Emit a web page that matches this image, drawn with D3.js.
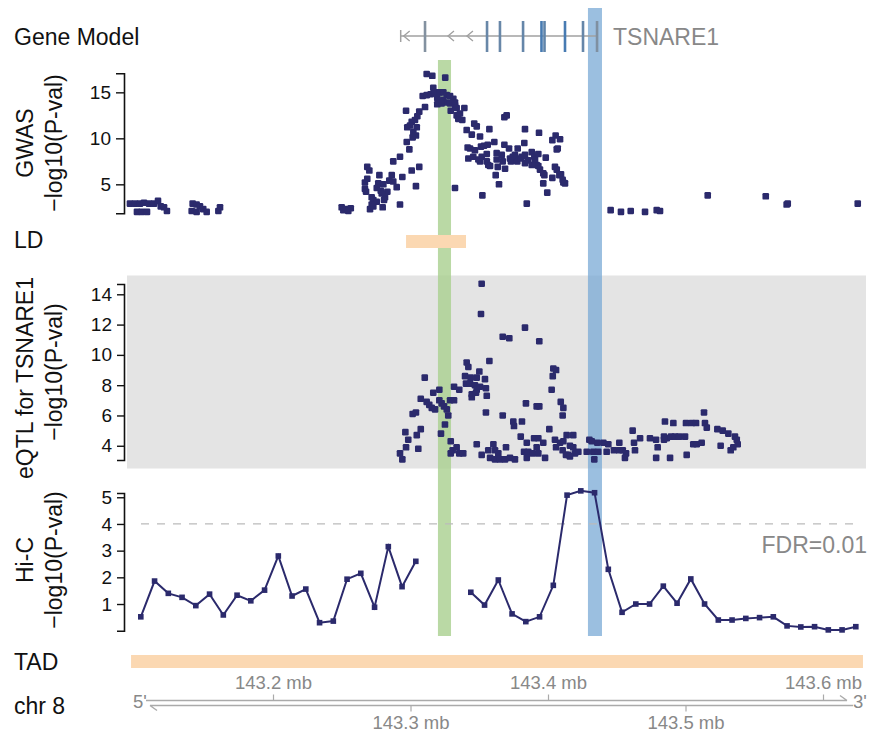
<!DOCTYPE html>
<html><head><meta charset="utf-8">
<script src="https://cdn.jsdelivr.net/npm/d3@7"></script>
<style>
body{margin:0;background:#fff}
text{font-family:"Liberation Sans",Arial,Helvetica,sans-serif}
</style>
</head><body>
<svg id="chart" width="870" height="733"></svg>
<script>
// ---------------- DATA ----------------
// genomic positions in mb (chr 8)
const gwasPoints = [
 [143.0956,2.9],[143.0993,2.9],[143.1029,2.9],[143.1058,3.0],[143.1095,2.9],[143.1131,2.9],[143.1160,3.2],[143.1180,2.6],
 [143.1204,2.5],[143.1225,2.1],[143.1007,2.0],[143.1041,2.0],[143.1080,2.0],[143.1412,2.9],[143.1441,2.8],[143.1465,2.6],
 [143.1489,2.3],[143.1405,2.1],[143.1441,2.0],[143.1514,2.0],[143.1599,2.1],[143.1611,2.5],
 [143.3114,17.0],[143.3155,16.8],[143.3249,16.6],[143.3162,15.5],[143.3085,14.6],[143.3114,14.7],[143.3143,14.8],[143.3175,15.0],
 [143.3206,15.0],[143.3235,15.0],[143.3260,14.7],[143.3284,14.6],[143.3308,14.3],[143.3320,13.9],[143.3191,14.4],[143.3235,14.2],
 [143.3264,13.9],[143.3284,13.8],[143.3191,13.7],[143.3223,13.8],[143.3289,13.0],[143.3320,13.6],[143.3332,12.5],[143.3344,12.1],
 [143.3102,13.4],[143.3060,12.9],[143.3046,12.4],[143.2964,13.0],[143.3029,12.0],[143.3005,11.8],[143.2993,11.4],[143.2973,11.2],
 [143.3042,11.2],[143.3017,10.7],[143.3036,10.3],[143.3012,10.1],[143.2969,9.6],[143.2988,8.8],[143.2920,8.0],[143.2871,7.5],
 [143.2682,6.9],[143.2697,6.5],[143.3005,6.5],[143.3060,6.9],[143.2770,6.0],[143.2860,6.0],[143.2937,5.8],[143.2682,5.6],
 [143.2665,5.2],[143.2842,5.4],[143.2871,5.3],[143.2762,5.1],[143.2799,5.0],[143.2896,4.7],[143.3036,4.8],[143.2665,4.5],
 [143.2751,4.6],[143.2780,4.3],[143.2673,4.2],[143.2828,4.2],[143.2787,4.0],[143.2714,3.6],[143.2811,3.6],[143.2726,3.3],
 [143.2751,3.1],[143.2804,3.3],[143.2714,2.8],[143.2920,2.8],[143.2794,2.5],[143.2702,2.3],[143.2726,2.6],[143.3320,4.6],
 [143.2496,2.5],[143.2527,2.3],[143.2562,2.4],[143.2508,2.2],[143.2544,2.1],
 [143.3332,13.3],[143.3356,12.7],[143.3388,13.3],[143.3373,12.0],[143.3405,10.9],[143.3460,11.6],[143.3478,11.3],[143.3442,10.4],
 [143.3502,10.2],[143.3570,11.0],[143.3679,12.3],[143.3696,12.5],[143.3829,11.0],[143.3931,10.6],[143.4052,10.3],[143.4028,9.8],
 [143.4084,9.9],[143.3429,8.9],[143.3465,8.7],[143.3417,7.8],[143.3453,8.0],[143.3509,9.1],[143.3514,8.0],[143.3502,7.5],
 [143.3558,9.3],[143.3551,8.3],[143.3562,7.1],[143.3606,9.6],[143.3623,8.4],[143.3631,6.9],[143.3679,9.3],[143.3713,8.9],
 [143.3720,7.8],[143.3727,7.5],[143.3756,8.2],[143.3776,8.9],[143.3805,8.0],[143.3824,9.5],[143.3829,7.3],[143.3878,8.5],
 [143.3897,8.0],[143.3914,7.1],[143.3926,8.3],[143.3938,6.6],[143.3980,7.9],[143.3970,6.0],[143.3962,5.1],[143.4028,5.7],
 [143.4047,6.9],[143.4067,8.9],[143.4091,6.1],[143.4108,5.2],[143.3616,6.0],[143.3640,5.0],[143.3991,4.1],[143.3519,3.8],
 [143.3842,2.9],[143.3412,9.0],[143.3531,9.2],[143.3490,7.7],[143.3551,7.5],[143.3575,7.0],[143.3623,7.7],[143.3660,8.2],
 [143.3667,7.5],[143.3684,6.7],[143.3740,8.0],[143.3773,7.5],[143.3798,7.8],[143.3829,8.2],[143.3853,7.6],[143.3878,7.1],
 [143.3902,7.7],[143.3926,7.0],[143.3962,6.2],[143.4060,6.6],[143.4079,6.0],[143.4103,5.5],[143.4120,5.1],[143.4060,8.8],
 [143.4452,2.2],[143.4527,2.0],[143.4598,2.1],[143.4702,2.0],[143.4787,2.2],[143.4811,2.1],[143.5158,3.8],[143.5580,3.7],
 [143.5732,2.8],[143.5740,2.9],[143.6249,2.9]
];

const eqtlPoints = [
 [143.3514,14.7],[143.3509,12.7],[143.3829,11.8],[143.3667,11.2],[143.3715,11.1],[143.3933,10.9],[143.3405,9.5],[143.3417,9.2],
 [143.3570,9.6],[143.3497,8.9],[143.3393,8.6],[143.3434,8.5],[143.3478,8.5],[143.3538,8.4],[143.3400,8.1],[143.3429,8.1],
 [143.3465,8.0],[143.3502,7.9],[143.3478,7.7],[143.3545,7.8],[143.3442,7.4],[143.3473,7.5],[143.3442,7.2],[143.3551,7.3],
 [143.3100,8.5],[143.3162,7.5],[143.3206,7.7],[143.3313,7.9],[143.3351,7.7],[143.3071,7.1],[143.3114,6.9],[143.3133,6.7],
 [143.3151,6.5],[143.3175,6.4],[143.3206,7.0],[143.3223,6.8],[143.3240,6.6],[143.3260,6.4],[143.3271,6.0],[143.3284,7.0],
 [143.3313,7.0],[143.3012,6.1],[143.3036,6.2],[143.3247,5.4],[143.3545,6.2],[143.3667,6.0],[143.3836,6.8],[143.3914,6.6],
 [143.3933,6.6],[143.4035,9.1],[143.4055,9.0],[143.4031,8.6],[143.4023,7.7],[143.4089,6.9],[143.4108,6.5],[143.4103,6.0],
 [143.3744,5.6],[143.3749,5.3],[143.3807,5.6],[143.4006,5.1],[143.2959,4.9],[143.3071,5.1],[143.3042,4.7],[143.2980,4.4],
 [143.2964,3.9],[143.3053,3.8],[143.2920,3.5],[143.2937,3.1],[143.3218,4.8],[143.3289,4.3],[143.3303,3.7],[143.3332,3.9],
 [143.3289,3.5],[143.3351,3.5],[143.3380,3.5],[143.3478,4.1],[143.3514,3.4],[143.3562,3.7],[143.3599,4.1],[143.3611,3.7],
 [143.3635,3.5],[143.3691,3.9],[143.3575,3.2],[143.3611,3.1],[143.3647,3.1],[143.3684,3.1],[143.3720,3.2],[143.3756,3.1],
 [143.3798,4.6],[143.3842,4.2],[143.3822,3.6],[143.3853,3.6],[143.3842,3.2],[143.3895,4.5],[143.3926,4.5],[143.3962,4.2],
 [143.3914,3.9],[143.3885,3.5],[143.3926,3.5],[143.3975,3.2],[143.4047,4.4],[143.4055,3.9],[143.4084,4.2],[143.4103,3.7],
 [143.4132,4.7],[143.4180,4.7],[143.4180,3.9],[143.4144,3.4],[143.4193,3.5],[143.4108,4.3],[143.4156,4.0],[143.4217,3.6],
 [143.4127,3.4],[143.4156,3.3],[143.4297,4.4],[143.4314,4.3],[143.4278,3.6],[143.4326,3.6],[143.4362,3.6],[143.4333,3.1],
 [143.4355,4.2],[143.4399,4.2],[143.4435,4.1],[143.4423,3.6],[143.4476,3.7],[143.4515,3.7],[143.4540,3.7],[143.4515,4.2],
 [143.4564,3.5],[143.4556,3.2],[143.4612,5.0],[143.4622,4.2],[143.4629,3.7],[143.4666,4.5],[143.4738,4.5],[143.4782,4.4],
 [143.4794,3.9],[143.4783,3.2],[143.4847,5.6],[143.4908,5.5],[143.4840,4.6],[143.4860,4.5],[143.4884,3.2],[143.4891,4.6],
 [143.4920,4.6],[143.4951,4.6],[143.4840,4.4],[143.4993,4.6],[143.5005,3.4],[143.5000,5.5],[143.5042,5.5],[143.5073,5.5],
 [143.5131,6.2],[143.5138,5.5],[143.5151,5.2],[143.5053,4.1],[143.5078,4.1],[143.5114,4.2],[143.5228,5.1],[143.5267,5.0],
 [143.5308,4.8],[143.5252,4.0],[143.5356,4.6],[143.5369,4.4],[143.5376,4.1],[143.5325,3.7],[143.5344,3.9]
];

const hicPos = [143.1035,143.1135,143.1235,143.1335,143.1435,143.1535,143.1635,143.1735,143.1835,143.1935,
 143.2035,143.2135,143.2235,143.2335,143.2435,143.2535,143.2635,143.2735,143.2835,143.2935,143.3035,
 143.3135,143.3235,143.3335,143.3435,143.3535,143.3635,143.3735,143.3835,143.3935,143.4035,143.4135,
 143.4235,143.4335,143.4435,143.4535,143.4635,143.4735,143.4835,143.4935,143.5035,143.5135,143.5235,
 143.5335,143.5435,143.5535,143.5635,143.5735,143.5835,143.5935,143.6035,143.6135,143.6235];
const hicVal = [0.52,1.86,1.40,1.25,0.94,1.37,0.59,1.33,1.12,1.52,2.80,1.30,1.56,0.30,0.36,1.93,2.15,0.88,3.15,1.65,2.60,
 null,null,null,1.44,0.96,1.90,0.63,0.34,0.52,1.70,5.08,5.24,5.17,2.30,0.69,1.00,1.00,1.67,1.03,1.94,1.00,
 0.40,0.40,0.46,0.49,0.52,0.18,0.14,0.15,0.03,0.03,0.15];
const fdrThreshold = 4;

// gene model TSNARE1 (minus strand)
const geneName = "TSNARE1";
const geneSpan = [143.2925, 143.4360];
const exonPos = [143.3102,143.3553,143.3647,143.3815,143.3949,143.3971,143.4120,143.4251,143.4353];
const exonUsage = [0.1,0.45,0.45,0.5,0.9,0.55,0.9,0.5,0.15];
const strandMarks = [143.3269,143.3407];

const ldBlock = [143.2964, 143.3400];
const tadBlock = [143.0964, 143.6287];
const highlightGreen = [143.3196, 143.3291];
const highlightBlue = [143.4287, 143.4389];

const gwasTicks = [5,10,15];
const eqtlTicks = [4,6,8,10,12,14];
const hicTicks = [1,2,3,4,5];
const chrTicksTop = [143.2,143.4,143.6];
const chrTicksBottom = [143.3,143.5];

// ---------------- CHART ----------------
const svg = d3.select("#chart");
const navy = "#2b2a6c";
const x = d3.scaleLinear().domain([143.1, 143.62]).range([136, 851]);
const yG = d3.scaleLinear().domain([1.85, 17.07]).range([213.3, 73.3]);
const yE = d3.scaleLinear().domain([3.06, 14.68]).range([460, 284]);
const yH = d3.scaleLinear().domain([0, 5.16]).range([630.7, 493]);

// eQTL background
svg.append("rect").attr("x",127).attr("y",275.5).attr("width",739).attr("height",193).attr("fill","#e4e4e4");

// highlight bars
svg.append("rect").attr("x",x(highlightGreen[0])).attr("width",x(highlightGreen[1])-x(highlightGreen[0]))
  .attr("y",60).attr("height",576).attr("fill","#a9d08e").attr("opacity",0.8);
svg.append("rect").attr("x",x(highlightBlue[0])).attr("width",x(highlightBlue[1])-x(highlightBlue[0]))
  .attr("y",8).attr("height",628).attr("fill","#7aa9d6").attr("opacity",0.75);

// row labels
const lab = (t,xx,yy,rot)=>{
  const el = svg.append("text").text(t).attr("font-size",23).attr("fill","#111");
  if(rot){ el.attr("text-anchor","middle").attr("transform",`translate(${xx},${yy}) rotate(-90)`); }
  else { el.attr("x",xx).attr("y",yy); }
  return el;
};
lab("Gene Model",14,45);
lab("GWAS",33,143,true);
lab("\u2212log10(P-val)",62,143,true);
lab("LD",14,248);
lab("eQTL for TSNARE1",33,378,true);
lab("\u2212log10(P-val)",62,372,true);
lab("Hi-C",33,560,true);
lab("\u2212log10(P-val)",62,560,true);
lab("TAD",14,670);
lab("chr 8",14,714);

// gene model
const gy = 36;
const gm = svg.append("g");
gm.append("line").attr("x1",x(geneSpan[0])).attr("x2",x(geneSpan[1])).attr("y1",gy).attr("y2",gy)
  .attr("stroke","#a0a0a0").attr("stroke-width",1.5);
gm.append("line").attr("x1",x(geneSpan[0])).attr("x2",x(geneSpan[0])).attr("y1",gy-6).attr("y2",gy+6)
  .attr("stroke","#a0a0a0").attr("stroke-width",1.5);
const chevs = [geneSpan[0]].concat(strandMarks);
gm.selectAll(".chev").data(chevs).join("path")
  .attr("d",(d,i)=>{const cx=x(d)+(i===0?3:0);return `M${cx+6},${gy-5}L${cx},${gy}L${cx+6},${gy+5}`;})
  .attr("fill","none").attr("stroke","#a0a0a0").attr("stroke-width",1.3);
const exonColor = d3.scaleLinear().domain([0,1]).range(["#8a949e","#3f78b4"]);
gm.selectAll(".exon").data(exonPos).join("line")
  .attr("x1",d=>x(d)).attr("x2",d=>x(d)).attr("y1",21).attr("y2",52)
  .attr("stroke",(d,i)=>exonColor(exonUsage[i])).attr("stroke-width",2.6);
gm.append("text").text(geneName).attr("x",x(geneSpan[1])+15).attr("y",45)
  .attr("font-size",23).attr("fill","#888");

// axes helper
function yAxis(scale,ticks,ts){
  const g = svg.append("g").attr("transform","translate(124,0)")
    .call(d3.axisLeft(scale).tickValues(ticks).tickFormat(d3.format("d")).tickSizeOuter(0).tickSize(ts).tickPadding(5));
  g.select(".domain").attr("stroke","#111").attr("stroke-width",1.6);
  g.selectAll(".tick line").attr("stroke","#111").attr("stroke-width",1.4);
  g.selectAll(".tick text").attr("font-size",19).attr("fill","#111")
    .attr("font-family","Liberation Sans, Arial, sans-serif");
  return g;
}
yAxis(yG,gwasTicks,8);
yAxis(yE,eqtlTicks,7);
yAxis(yH,hicTicks,7);

// GWAS points
const ps = 6.6;
svg.append("g").selectAll("rect").data(gwasPoints).join("rect")
  .attr("x",d=>x(d[0])-ps/2).attr("y",d=>yG(d[1])-ps/2).attr("width",ps).attr("height",ps).attr("rx",1.2)
  .attr("fill",navy);

// LD
svg.append("rect").attr("x",x(ldBlock[0])).attr("width",x(ldBlock[1])-x(ldBlock[0]))
  .attr("y",235).attr("height",13).attr("fill","#fbd8b2");

// eQTL points
svg.append("g").selectAll("rect").data(eqtlPoints).join("rect")
  .attr("x",d=>x(d[0])-ps/2).attr("y",d=>yE(d[1])-ps/2).attr("width",ps).attr("height",ps).attr("rx",1.2)
  .attr("fill",navy);

// Hi-C
svg.append("line").attr("x1",141).attr("x2",858).attr("y1",yH(fdrThreshold)).attr("y2",yH(fdrThreshold))
  .attr("stroke","#bbbbbb").attr("stroke-width",1.3).attr("stroke-dasharray","8,8");
svg.append("text").text("FDR=0.01").attr("x",867).attr("y",yH(fdrThreshold)+29)
  .attr("text-anchor","end").attr("font-size",23).attr("fill","#888");
const hic = hicPos.map((p,i)=>({p, v:hicVal[i]}));
svg.append("path").datum(hic)
  .attr("d",d3.line().defined(d=>d.v!==null).x(d=>x(d.p)).y(d=>yH(d.v)))
  .attr("fill","none").attr("stroke",navy).attr("stroke-width",2);
svg.append("g").selectAll("rect").data(hic.filter(d=>d.v!==null)).join("rect")
  .attr("x",d=>x(d.p)-2.8).attr("y",d=>yH(d.v)-2.8).attr("width",5.6).attr("height",5.6)
  .attr("fill",navy);

// TAD
svg.append("rect").attr("x",x(tadBlock[0])).attr("width",x(tadBlock[1])-x(tadBlock[0]))
  .attr("y",655).attr("height",13).attr("fill","#fbd8b2");

// chromosome axis
const yT = 700.5, yB = 705.5, axCol = "#aaaaaa";
const ca = svg.append("g");
ca.append("path").attr("d",`M146,${yT}H847M840,${yT-5}L847,${yT}`).attr("fill","none").attr("stroke",axCol).attr("stroke-width",1.4);
ca.append("path").attr("d",`M150,${yB}H853M157,${yB+5}L150,${yB}`).attr("fill","none").attr("stroke",axCol).attr("stroke-width",1.4);
ca.selectAll(".tt").data(chrTicksTop).join("line").attr("x1",d=>x(d)).attr("x2",d=>x(d))
  .attr("y1",yT-6).attr("y2",yT).attr("stroke",axCol).attr("stroke-width",1.2);
ca.selectAll(".tb").data(chrTicksBottom).join("line").attr("x1",d=>x(d)).attr("x2",d=>x(d))
  .attr("y1",yB).attr("y2",yB+6).attr("stroke",axCol).attr("stroke-width",1.2);
const fmt = d=>d3.format(".1f")(d)+" mb";
ca.selectAll(".tlt").data(chrTicksTop).join("text").text(fmt).attr("x",d=>x(d)).attr("y",689)
  .attr("text-anchor","middle").attr("font-size",18.5).attr("fill","#888");
ca.selectAll(".tlb").data(chrTicksBottom).join("text").text(fmt).attr("x",d=>x(d)).attr("y",729)
  .attr("text-anchor","middle").attr("font-size",18.5).attr("fill","#888");
ca.append("text").text("5'").attr("x",133).attr("y",708).attr("font-size",18.5).attr("fill","#888");
ca.append("text").text("3'").attr("x",853).attr("y",708).attr("font-size",18.5).attr("fill","#888");
</script>
</body></html>
